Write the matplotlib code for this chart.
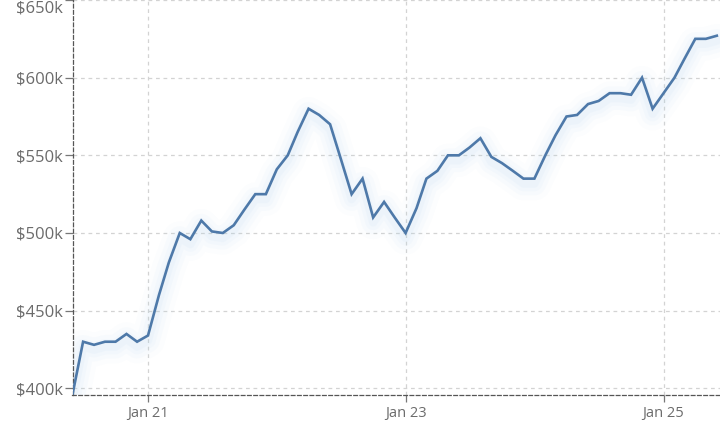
import matplotlib
matplotlib.use('Agg')
import matplotlib.pyplot as plt
import matplotlib.dates as mdates
import matplotlib.ticker as mticker
import matplotlib.transforms as mtrans
import pandas as pd

# monthly values, Jun 2020 .. Jun 2025 (in $k)
months = pd.date_range('2020-06-01', '2025-06-01', freq='MS')
values = [396, 430, 428, 430, 430, 435, 430, 434,
          460, 481, 500, 496, 508, 501, 500, 505, 515, 525, 525,
          541, 550, 565, 580, 576, 570, 548, 525, 535, 510, 520, 510,
          500, 516, 535, 540, 550, 550, 555, 561, 549, 545, 540, 535,
          535, 550, 563, 575, 576, 583, 585, 590, 590, 589, 600, 580,
          590, 600, 612, 625, 625, 627]
yticks = [400, 450, 500, 550, 600, 650]
xticks = ['2021-01-01', '2023-01-01', '2025-01-01']

line_color = '#4e79a9'
plt.rcParams['font.family'] = ['Open Sans', 'DejaVu Sans']

fig = plt.figure(figsize=(7.2, 4.32), dpi=100)
ax = fig.add_axes([72.5 / 720, 1 - 395 / 432, 1 - 72.5 / 720, 395 / 432])

# soft glow under the line
for i, lw in enumerate([24, 17, 11, 6]):
    off = mtrans.offset_copy(ax.transData, fig=fig, x=0, y=-5, units='dots')
    ax.plot(months, values, color='#b3d3f0', lw=lw, alpha=0.04 + 0.015 * i,
            solid_capstyle='round', solid_joinstyle='round', transform=off, zorder=2)

ax.plot(months, values, color=line_color, lw=1.9, solid_joinstyle='miter', zorder=3)

ax.set_xlim(pd.Timestamp('2020-06-01'), pd.Timestamp('2025-06-10'))
ax.set_ylim(395.7, 650)

ax.set_yticks(yticks)
ax.yaxis.set_major_formatter(mticker.FuncFormatter(lambda v, p: '$%dk' % v))
ax.set_xticks([pd.Timestamp(t) for t in xticks])
ax.xaxis.set_major_formatter(mdates.DateFormatter('Jan %y'))

ax.grid(True, color='#d3d3d3', linestyle=(0, (3, 3)), linewidth=0.9)
ax.set_axisbelow(True)

for s in ['top', 'right']:
    ax.spines[s].set_visible(False)
for s in ['left', 'bottom']:
    ax.spines[s].set_linestyle((0, (3, 2)))
    ax.spines[s].set_color('#555555')
    ax.spines[s].set_linewidth(0.9)

ax.tick_params(axis='y', length=6, width=0.9, color='#777777', pad=1,
               labelsize=12, labelcolor='#6b6b6b')
ax.tick_params(axis='x', length=5, width=0.9, color='#777777', pad=3,
               labelsize=10.5, labelcolor='#6b6b6b')

fig.canvas.draw()
ax.get_yticklabels()[-1].set_verticalalignment('top')

fig.savefig('out.png', dpi=100)
